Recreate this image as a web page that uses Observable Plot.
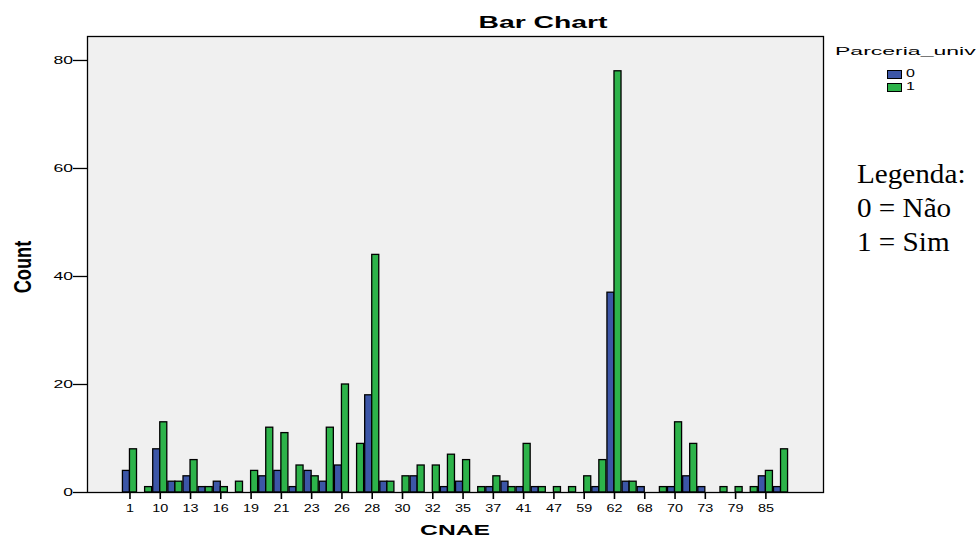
<!DOCTYPE html>
<html>
<head>
<meta charset="utf-8">
<script src="https://cdn.jsdelivr.net/npm/d3@7"></script>
<script src="https://cdn.jsdelivr.net/npm/@observablehq/plot@0.6"></script>
<style>
  body { margin: 0; background: #fff; }
  #wrap { position: relative; width: 977px; height: 539px; font-family: "Liberation Sans", Arial, sans-serif; overflow: hidden; }
  #wrap svg { position: absolute; left: 0; top: 0; }
  .ov { position: absolute; white-space: nowrap; color: #000; line-height: 1; }
  .sw { position: absolute; width: 13px; height: 7px; border: 1px solid #000; }
</style>
</head>
<body>
<div id="wrap"></div>
<script>
// CNAE categories (every other one is labelled on the axis)
const cats = ["1","8","10","11","13","14","16","17","19","20","21","22","23","25","26","27","28","29","30","31","32","33","35","36","37","38","41","46","47","58","59","61","62","63","68","69","70","71","73","74","79","82","85","86"];
const tickLabels = ["1","10","13","16","19","21","23","26","28","30","32","35","37","41","47","59","62","68","70","73","79","85"];
// Parceria_univ = 0 (Não)
const count0 = [4,0,8,2,3,1,2,0,0,3,4,1,4,2,5,0,18,2,0,3,0,1,2,0,1,2,1,1,0,0,0,1,37,2,1,0,1,3,1,0,0,0,3,1];
// Parceria_univ = 1 (Sim)
const count1 = [8,1,13,2,6,1,1,2,4,12,11,5,3,12,20,9,44,2,3,5,5,7,6,1,3,1,9,1,1,1,3,6,78,2,0,1,13,9,0,1,1,1,4,8];
const yTicks = [0,20,40,60,80];
const groups = ["0","1"];
const colors = ["#3c56a7","#2db34a"];

const rows = [];
cats.forEach((c, i) => {
  rows.push({cnae: c, grupo: "0", n: count0[i]});
  rows.push({cnae: c, grupo: "1", n: count1[i]});
});
const data = rows.filter(d => d.n > 0);

const chart = Plot.plot({
  width: 977,
  height: 539,
  marginLeft: 87,
  marginRight: 154,
  marginTop: 36,
  marginBottom: 47,
  style: {fontFamily: "Liberation Sans, Arial, sans-serif", background: "transparent", color: "#000"},
  x: {domain: cats, paddingInner: 0.07, paddingOuter: 2.34, align: 0.5, round: false},
  y: {domain: [0, 84.44]},
  color: {domain: groups, range: colors},
  marks: [
    Plot.frame({fill: "#f0f0f0", stroke: "none"}),
    Plot.barY(data.filter(d => d.grupo === "0"), {x: "cnae", y: "n", fill: "grupo", stroke: "#000", strokeWidth: 1.3, insetRight: 7.04, insetLeft: 0}),
    Plot.barY(data.filter(d => d.grupo === "1"), {x: "cnae", y: "n", fill: "grupo", stroke: "#000", strokeWidth: 1.3, insetLeft: 7.04, insetRight: 0}),
    Plot.frame({stroke: "#000", strokeWidth: 1.3}),
    Plot.axisX({ticks: tickLabels, tickSize: 7, tickPadding: 4.5, fontSize: 11.5, label: null, strokeWidth: 1.6}),
    Plot.axisY({ticks: yTicks, tickSize: 14, tickPadding: 0.5, fontSize: 11, label: null, strokeWidth: 1.3})
  ]
});

const wrap = document.getElementById("wrap");
wrap.appendChild(chart);

function stretch(label, factor) {
  chart.querySelectorAll(`g[aria-label="${label}"] text`).forEach(t => {
    const w = t.getComputedTextLength();
    if (w > 0) {
      t.setAttribute("textLength", (w * factor).toFixed(2));
      t.setAttribute("lengthAdjust", "spacingAndGlyphs");
    }
  });
}
stretch("x-axis tick label", 1.25);
stretch("y-axis tick label", 1.6);

function addText(txt, css) {
  const d = document.createElement("div");
  d.className = "ov";
  d.textContent = txt;
  Object.assign(d.style, css);
  wrap.appendChild(d);
  return d;
}

// Title
addText("Bar Chart", {left: "542.5px", top: "15px", fontSize: "16px", fontWeight: "bold", transform: "translateX(-50%) scaleX(1.77)", transformOrigin: "50% 50%"});
// X axis title
addText("CNAE", {left: "455px", top: "523px", fontSize: "14px", fontWeight: "bold", transform: "translateX(-50%) scaleX(1.76)", transformOrigin: "50% 50%"});
// Y axis title
addText("Count", {left: "22.5px", top: "266.5px", fontSize: "24px", fontWeight: "bold", transform: "translate(-50%,-50%) rotate(-90deg) scaleX(0.76)", transformOrigin: "50% 50%"});

// Legend
addText("Parceria_univ", {left: "835px", top: "46px", fontSize: "11.5px", transform: "scaleX(2)", transformOrigin: "0 50%"});
groups.forEach((g, i) => {
  const s = document.createElement("div");
  s.className = "sw";
  s.style.left = "887px";
  s.style.top = (70 + i * 13) + "px";
  s.style.background = colors[i];
  wrap.appendChild(s);
  addText(g, {left: "906px", top: (69 + i * 13) + "px", fontSize: "10px", transform: "scaleX(1.6)", transformOrigin: "0 50%"});
});

// Annotation
const serif = {fontFamily: "'Liberation Serif', 'Times New Roman', serif", fontSize: "27px", transform: "scaleX(1.08)", transformOrigin: "0 50%"};
addText("Legenda:", Object.assign({left: "857px", top: "161px"}, serif));
addText("0 = Não", Object.assign({left: "857px", top: "195px"}, serif));
addText("1 = Sim", Object.assign({left: "857px", top: "229px"}, serif));
</script>
</body>
</html>
